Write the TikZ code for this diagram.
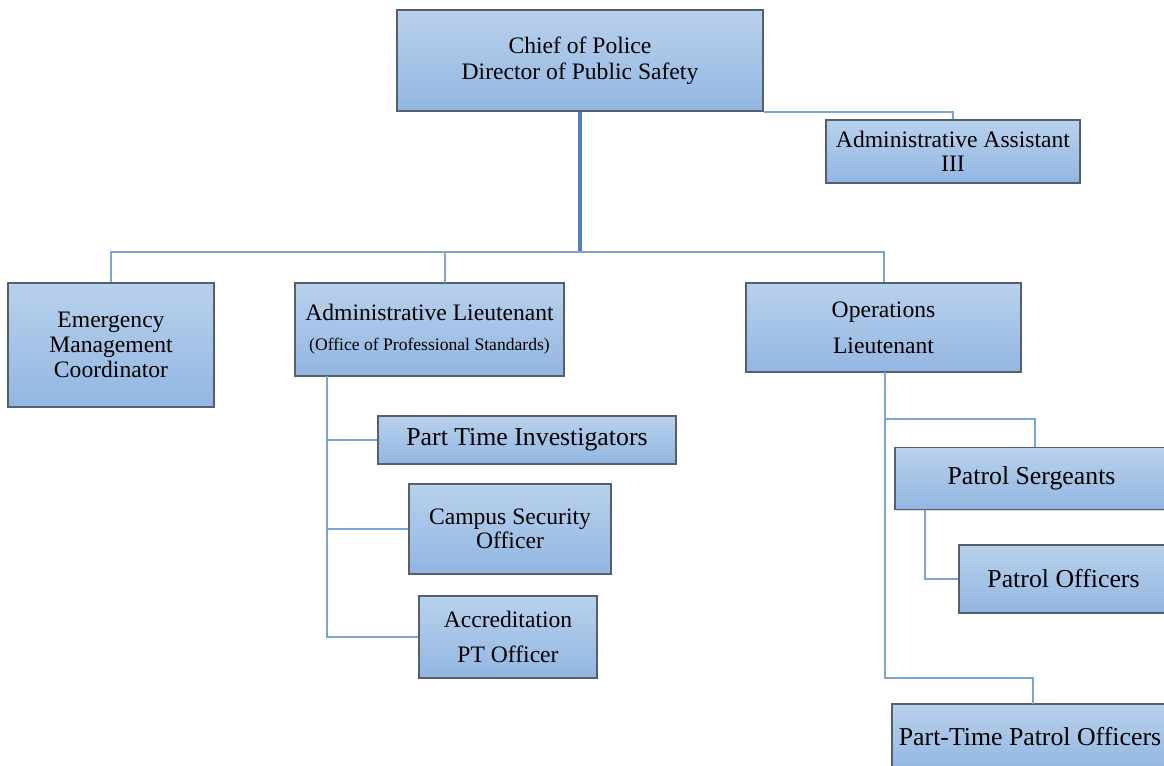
\documentclass[tikz,border=0pt]{standalone}
\usepackage{fontspec}
\setmainfont{Liberation Serif}
\usetikzlibrary{shadows}
\definecolor{boxtop}{HTML}{B9D1EC}
\definecolor{boxbot}{HTML}{92B6E2}
\definecolor{boxline}{HTML}{56606C}
\definecolor{conn}{HTML}{7BA4D4}
\definecolor{connmain}{HTML}{4F81BD}
\tikzset{
  box/.style={rectangle, draw=boxline, line width=0.6pt, top color=boxtop, bottom color=boxbot,
    align=center, inner sep=0pt, font=\fontsize{11.8}{13}\selectfont,
    drop shadow={shadow xshift=0.6pt, shadow yshift=-0.6pt, fill=black!25}},
  link/.style={draw=conn, line width=1pt},
  mainlink/.style={draw=connmain, line width=1.6pt},
}
\begin{document}
\begin{tikzpicture}[x=0.5pt,y=-0.5pt]
\useasboundingbox (0,0) rectangle (1164,766);
\begin{scope}
\clip (0,0) rectangle (1164,766);
% nodes
\node[box, minimum width=183pt, minimum height=50.5pt] (chief) at (580,60.5) {Chief of Police\\Director of Public Safety};
\node[box, minimum width=127pt, minimum height=31.5pt, font=\fontsize{11.8}{11.8}\selectfont] (asst) at (953,151.5) {Administrative Assistant\\III};
\node[box, minimum width=103pt, minimum height=62pt, font=\fontsize{11.8}{12.4}\selectfont] (emerg) at (111,345) {Emergency\\Management\\Coordinator};
\node[box, minimum width=134.5pt, minimum height=46.5pt, font=\fontsize{11.8}{13}\selectfont] (adminlt) at (429.5,329.5) {Administrative Lieutenant\\[2pt]{\fontsize{8.8}{10}\selectfont(Office of Professional Standards)}};
\node[box, minimum width=137.5pt, minimum height=44.5pt, font=\fontsize{11.8}{18}\selectfont] (opslt) at (883.5,327.5) {Operations\\Lieutenant};
\node[box, minimum width=149pt, minimum height=24pt, font=\fontsize{12.9}{14}\selectfont] (pti) at (527,440) {Part Time Investigators};
\node[box, minimum width=101pt, minimum height=45pt, font=\fontsize{11.8}{12}\selectfont] (cso) at (510,529) {Campus Security\\Officer};
\node[box, minimum width=89pt, minimum height=41pt, font=\fontsize{11.8}{17.5}\selectfont] (acc) at (508,637) {Accreditation\\PT Officer};
\node[box, minimum width=136.5pt, minimum height=31pt, font=\fontsize{12.9}{14}\selectfont] (psg) at (1031.5,478.5) {Patrol Sergeants};
\node[box, minimum width=104.5pt, minimum height=34pt, font=\fontsize{12.9}{14}\selectfont] (po) at (1063.5,579) {Patrol Officers};
\node[box, minimum width=138pt, minimum height=33pt, font=\fontsize{12.9}{14}\selectfont] (ptpo) at (1030,737) {Part-Time Patrol Officers};
% connectors
\coordinate (bus) at (580,252);
\coordinate (altop) at (445,283);
\draw[mainlink] (chief.south) -- (bus);
\draw[link] (emerg.north) |- (bus) -| (opslt.north);
\draw[link] (bus -| altop) -- (altop);
\draw[link] (chief.south east) -- (chief.south east -| asst.north) -- (asst.north);
\coordinate (al) at (327,376);
\draw[link] (al) |- (acc.west);
\draw[link] (al |- pti.west) -- (pti.west);
\draw[link] (al |- cso.west) -- (cso.west);
\coordinate (ol) at (885,372);
\coordinate (psgtop) at (1035,447);
\coordinate (ptpotop) at (1033,704);
\draw[link] (ol) -- (885,678) -| (ptpotop);
\draw[link] (885,419) -| (psgtop);
\draw[link] (925,509.5) |- (po.west);
\end{scope}
\end{tikzpicture}
\end{document}
